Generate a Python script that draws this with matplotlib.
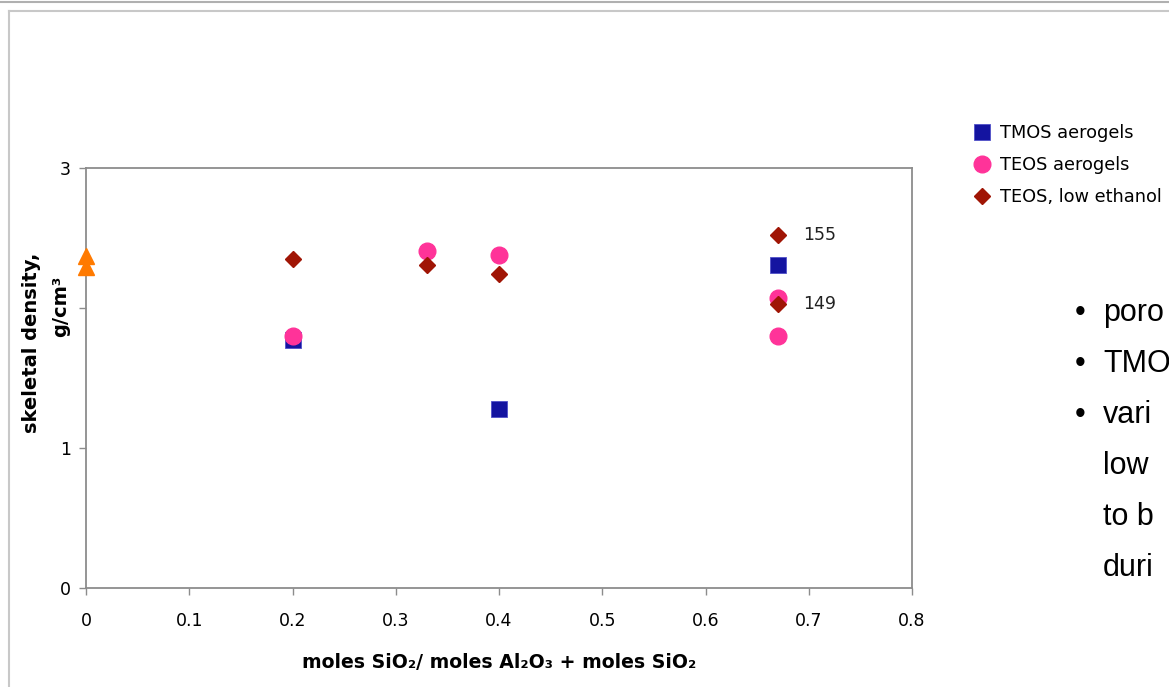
import matplotlib
matplotlib.use("Agg")
import matplotlib.pyplot as plt
from matplotlib.lines import Line2D

# data
tmos_x = [0.2, 0.4, 0.67]
tmos_y = [1.77, 1.28, 2.31]
teos_x = [0.2, 0.33, 0.4, 0.67, 0.67]
teos_y = [1.80, 2.41, 2.38, 2.07, 1.80]
low_x = [0.2, 0.33, 0.4, 0.67, 0.67]
low_y = [2.35, 2.31, 2.24, 2.52, 2.03]
ref_x = [0, 0]
ref_y = [2.37, 2.29]
notes = ["155", "149"]
notes_x = [0.67, 0.67]
notes_y = [2.52, 2.03]
bullet_lines = ["poro", "TMO", "vari", "low", "to b", "duri"]
has_bullet = [True, True, True, False, False, False]

plt.rcParams["font.family"] = "DejaVu Sans"

fig = plt.figure(figsize=(11.69, 6.87), dpi=100)
ax = fig.add_axes([86/1169, 1-588/687, (912-86)/1169, (588-168)/687])

ax.plot(ref_x, ref_y, "^", color="#ff7a00", ms=11.5, clip_on=False, zorder=3)
h1, = ax.plot(tmos_x, tmos_y, "s", color="#1414a0", mec="#5050c8", mew=0.6, ms=12, zorder=3)
h2, = ax.plot(teos_x, teos_y, "o", color="#ff3399", ms=12, zorder=4)
h3, = ax.plot(low_x, low_y, "D", color="#a01505", ms=8, zorder=5)

for t, x, y in zip(notes, notes_x, notes_y):
    ax.annotate(t, (x, y), xytext=(18, 0), textcoords="offset points",
                fontsize=12.5, color="#222222", va="center")

ax.set_xlim(0, 0.8)
ax.set_ylim(0, 3)
ax.set_xticks([0, 0.1, 0.2, 0.3, 0.4, 0.5, 0.6, 0.7, 0.8])
ax.set_xticklabels(["0", "0.1", "0.2", "0.3", "0.4", "0.5", "0.6", "0.7", "0.8"])
ax.set_yticks([0, 1, 2, 3])
ax.set_yticklabels(["0", "1", "", "3"])
for s in ax.spines.values():
    s.set_color("#8c8c8c")
    s.set_linewidth(1.3)
ax.tick_params(colors="#8c8c8c", labelcolor="black", labelsize=12.5, length=5, width=1)
ax.tick_params(axis="x", pad=12)
ax.tick_params(axis="y", pad=6)

fig.text(499/1169, 1-662/687, "moles SiO\u2082/ moles Al\u2082O\u2083 + moles SiO\u2082",
         ha="center", va="center", fontsize=13.6, fontweight="bold")
fig.text(32/1169, 1-343/687, "skeletal density,", rotation=90,
         ha="center", va="center", fontsize=14, fontweight="bold")
fig.text(61/1169, 1-306/687, "g/cm\u00b3", rotation=90,
         ha="center", va="center", fontsize=14, fontweight="bold")

fig.legend([h1, h2, h3], ["TMOS aerogels", "TEOS aerogels", "TEOS, low ethanol"],
           loc="upper left", bbox_to_anchor=(975/1169, 1-124/687), frameon=False,
           fontsize=12.8, handlelength=0.8, handletextpad=0.6, labelspacing=0.78,
           borderaxespad=0, borderpad=0)

for i, (t, b) in enumerate(zip(bullet_lines, has_bullet)):
    y = 1 - (313 + i*51)/687
    if b:
        fig.text(1075/1169, y, "\u2022", fontsize=22, family="Liberation Sans",
                 va="center", ha="left")
    fig.text(1103/1169, y, t, fontsize=22, family="Liberation Sans",
             va="center", ha="left")

# window frame lines
fig.add_artist(Line2D([0, 1], [1-2/687, 1-2/687], color="#b0b0b0", lw=1.5))
fig.add_artist(Line2D([9/1169, 1], [1-11/687, 1-11/687], color="#c8c8c8", lw=1.5))
fig.add_artist(Line2D([9/1169, 9/1169], [0, 1-11/687], color="#c8c8c8", lw=1.5))

fig.savefig("out.png", dpi=100)
